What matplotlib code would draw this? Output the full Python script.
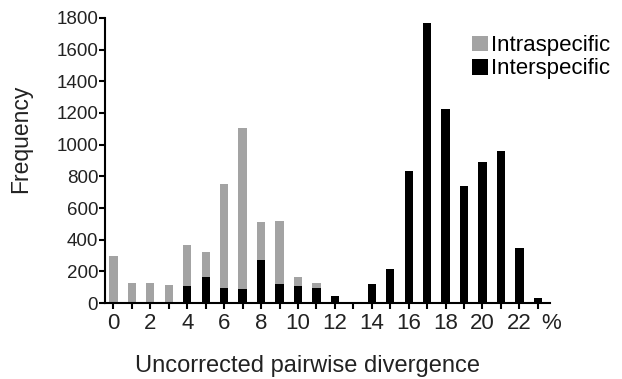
import matplotlib
matplotlib.use('Agg')
import matplotlib.pyplot as plt
import numpy as np

plt.rcParams['font.family'] = ['Liberation Sans', 'DejaVu Sans']

divergence = np.arange(0, 24)
intraspecific = [300, 125, 130, 115, 365, 320, 750, 1105, 515, 520, 165, 125,
                 0, 10, 0, 0, 0, 0, 0, 0, 0, 0, 0, 0]
interspecific = [0, 0, 0, 0, 108, 163, 95, 90, 273, 121, 108, 97,
                 45, 8, 119, 214, 834, 1766, 1226, 739, 891, 957, 348, 30]
tick_labels = [str(v) if v % 2 == 0 else '' for v in divergence]

fig = plt.figure(figsize=(6.22, 3.79), dpi=100)
ax = fig.add_axes([0.169, 0.2, 0.715, 0.753])

w = 0.45
ax.bar(divergence, intraspecific, width=w, color='#a3a3a3', label='Intraspecific')
ax.bar(divergence, interspecific, width=w, color='black', label='Interspecific')

ax.set_xlim(-0.45, 23.65)
ax.set_ylim(0, 1800)
ax.set_yticks(np.arange(0, 1801, 200))
ax.set_xticks(divergence)
ax.set_xticklabels(tick_labels)
ax.text(23.7, -0.035, '%', transform=ax.get_xaxis_transform(), ha='center', va='top',
        fontsize=16, color='#222222')

for side in ['top', 'right']:
    ax.spines[side].set_visible(False)
ax.spines['left'].set_linewidth(1.5)
ax.spines['bottom'].set_linewidth(1.5)
ax.tick_params(axis='x', direction='out', length=4, width=1.5, labelsize=16, pad=3,
               labelcolor='#222222')
ax.tick_params(axis='y', direction='out', length=4, width=1.5, labelsize=13.5, pad=1,
               labelcolor='#222222')

ax.set_ylabel('Frequency', fontsize=16.5, color='#222222')
ax.yaxis.set_label_coords(-0.164, 0.575)
ax.set_xlabel('Uncorrected pairwise divergence', fontsize=17, color='#222222')
ax.xaxis.set_label_coords(0.455, -0.18)

ax.legend(loc='upper right', bbox_to_anchor=(1.155, 0.97), frameon=False, fontsize=16,
          handlelength=0.72, handleheight=0.72, handletextpad=0.1, labelspacing=0.1,
          borderaxespad=0)

fig.savefig('out.png', dpi=100)
